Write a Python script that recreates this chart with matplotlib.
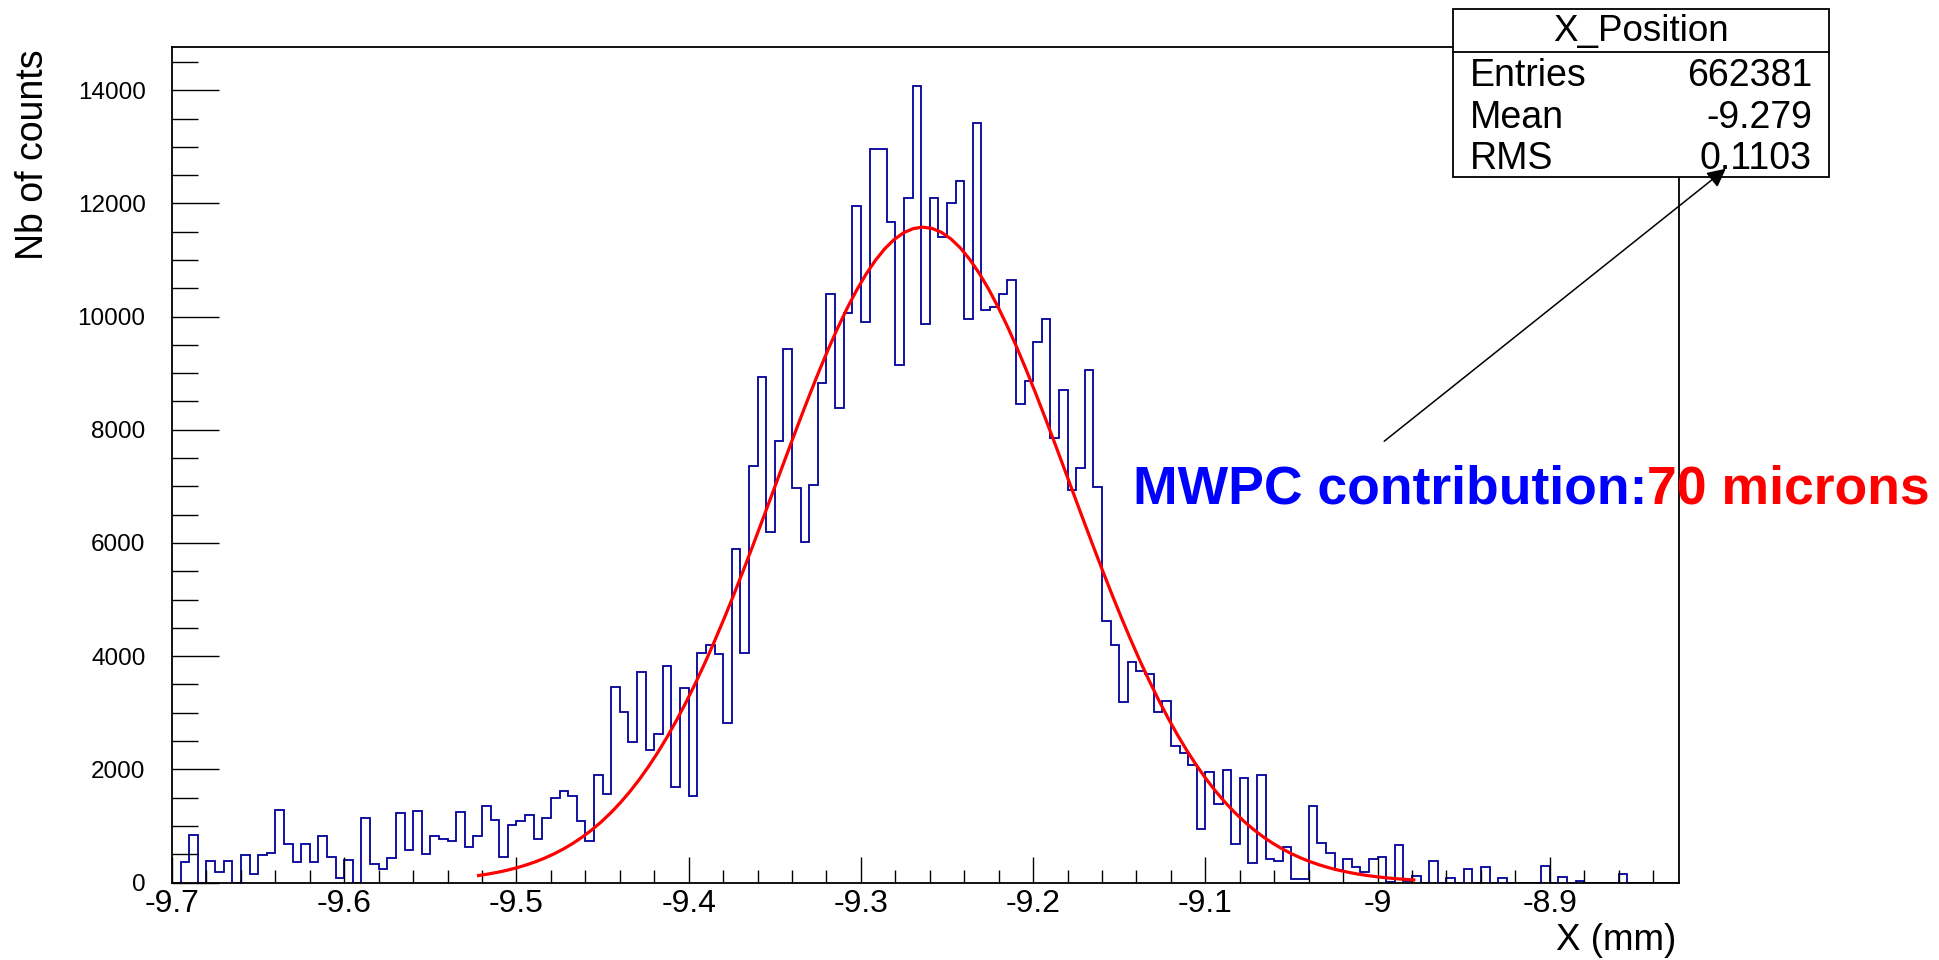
import numpy as np
import matplotlib
matplotlib.use('Agg')
import matplotlib.pyplot as plt
from matplotlib.patches import Rectangle, FancyArrowPatch
from matplotlib.lines import Line2D
from matplotlib.ticker import MultipleLocator, FuncFormatter

plt.rcParams['font.family'] = ['Liberation Sans', 'DejaVu Sans']
plt.rcParams['axes.unicode_minus'] = False

# histogram X_Position, bins of 0.005 mm starting at -9.7
x_start = -9.7
bin_width = 0.005
counts = [
    0, 371, 848, 0, 383, 177, 383, 0, 489, 147,
    489, 518, 1278, 683, 371, 683, 371, 825, 459, 77,
    400, 0, 1137, 324, 236, 430, 1225, 577, 1255, 507,
    820, 775, 740, 1245, 627, 822, 1358, 1104, 456, 1016,
    1080, 1193, 766, 1140, 1500, 1617, 1528, 1080, 736, 1896,
    1555, 3446, 3016, 2480, 3717, 2338, 2627, 3834, 1693, 3440,
    1528, 4050, 4195, 4029, 2822, 5892, 4055, 7353, 8941, 6186,
    7794, 9422, 6971, 6010, 7020, 8824, 10402, 8382, 10059, 11961,
    9902, 12961, 12961, 11667, 9147, 12088, 14069, 9863, 12088, 11402,
    12010, 12402, 9951, 13412, 10108, 10177, 10402, 10647, 8461, 8853,
    9559, 9951, 7863, 8706, 6941, 7333, 9049, 6990, 4627, 4196,
    3186, 3902, 3735, 3676, 3020, 3216, 2412, 2290, 2068, 942,
    1958, 1390, 1980, 686, 1844, 348, 1897, 407, 378, 636,
    70, 70, 1357, 690, 519, 215, 407, 273, 177, 420,
    442, 10, 660, 20, 118, 0, 377, 0, 77, 0,
    241, 0, 271, 0, 77, 0, 0, 0, 0, 294,
    0, 106, 0, 35, 0, 0, 0, 0, 153, 0,
    0, 0, 0, 0, 0,
]

# gaussian fit drawn over the histogram
fit_const = 11580
fit_mean = -9.264
fit_sigma = 0.0856
fit_xmin = -9.522
fit_xmax = -8.979

stat_title = 'X_Position'
stat_names = ['Entries', 'Mean', 'RMS']
stat_values = ['662381', '-9.279', '0.1103']

W, H = 1940, 960
def fx(px):
    return px / W
def fy(py):
    return 1 - py / H

fig = plt.figure(figsize=(W / 100, H / 100), dpi=100)
ax = fig.add_axes([fx(172), fy(882.5), (1679 - 172) / W, (882.5 - 46.5) / H])

edges = x_start + bin_width * np.arange(len(counts) + 1)
ax.stairs(counts, edges, color='#000099', lw=1.3)

xf = np.linspace(fit_xmin, fit_xmax, 100)
yf = fit_const * np.exp(-0.5 * ((xf - fit_mean) / fit_sigma) ** 2)
ax.plot(xf, yf, color='red', lw=2.3)

ax.set_xlim(edges[0], edges[-1])
ax.set_ylim(0, 1.05 * max(counts))

ax.xaxis.set_major_locator(MultipleLocator(0.1))
ax.xaxis.set_minor_locator(MultipleLocator(0.02))
ax.yaxis.set_major_locator(MultipleLocator(2000))
ax.yaxis.set_minor_locator(MultipleLocator(500))
ax.xaxis.set_major_formatter(FuncFormatter(lambda v, p: '%g' % round(v, 2)))
ax.yaxis.set_major_formatter(FuncFormatter(lambda v, p: '%d' % v))
ax.tick_params(direction='in', which='both', width=1.0, colors='black')
ax.tick_params(axis='y', which='major', length=34, pad=19, labelsize=17.5)
ax.tick_params(axis='y', which='minor', length=18.5)
ax.tick_params(axis='x', which='major', length=18.5, pad=5, labelsize=23)
ax.tick_params(axis='x', which='minor', length=9.5)
for s in ax.spines.values():
    s.set_linewidth(1.3)

fig.text(fx(1676), fy(941), 'X (mm)', fontsize=26.5, ha='right', va='center')
fig.text(fx(33), fy(49), 'Nb of counts', fontsize=27, rotation=90, ha='center', va='top')

# stats box
bx0, by0, bx1, by1 = 1452.7, 9.3, 1829.3, 176.7
fig.add_artist(Rectangle((fx(bx0), fy(by1)), (bx1 - bx0) / W, (by1 - by0) / H,
                         transform=fig.transFigure, facecolor='white',
                         edgecolor='black', lw=1.3, zorder=5))
fig.add_artist(Line2D([fx(bx0), fx(bx1)], [fy(51.7), fy(51.7)],
                      transform=fig.transFigure, color='black', lw=1.3, zorder=6))
fig.text(fx((bx0 + bx1) / 2), fy(31), stat_title, fontsize=26.5, ha='center', va='center', zorder=7)
for i in range(3):
    yb = fy(86 + i * 41.5)
    fig.text(fx(1470), yb, stat_names[i], fontsize=27, ha='left', va='baseline', zorder=7)
    fig.text(fx(1812), yb, stat_values[i], fontsize=27, ha='right', va='baseline', zorder=7)

fig.add_artist(FancyArrowPatch((fx(1382), fy(443)), (fx(1728), fy(167)),
                               transform=fig.transFigure, arrowstyle='-|>',
                               mutation_scale=28, color='black', lw=1.1, zorder=8))

t1 = fig.text(fx(1133), fy(503), 'MWPC contribution:', color='blue', fontsize=38.5,
              fontweight='bold', va='baseline', zorder=9)
fig.canvas.draw()
bb = t1.get_window_extent()
fig.text(bb.x1 / fig.bbox.width, fy(503), '70 microns', color='red', fontsize=38.5,
         fontweight='bold', va='baseline', zorder=9)

fig.savefig('out.png', dpi=100)
